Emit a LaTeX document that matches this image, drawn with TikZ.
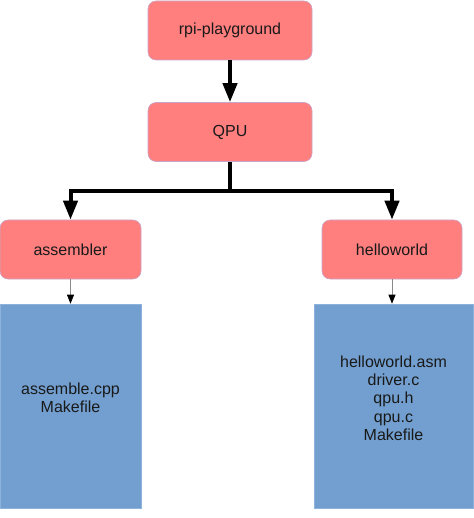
\documentclass[tikz,border=0pt]{standalone}
\usepackage{fontspec}
\setmainfont{Liberation Sans}
\usetikzlibrary{arrows.meta}
\definecolor{pinkfill}{HTML}{FF7F7F}
\definecolor{pinkline}{HTML}{C9A6C9}
\definecolor{bluefill}{HTML}{729FCF}
\definecolor{blueline}{HTML}{8DB2DB}
\definecolor{thingray}{HTML}{8A8A8A}
\begin{document}
\begin{tikzpicture}[x=1pt,y=-1pt,
  pinkbox/.style={rectangle,rounded corners=8pt,fill=pinkfill,draw=pinkline,line width=0.6pt,
    minimum width=#1,minimum height=59pt,inner sep=0pt,text=black!90,
    font=\fontsize{16}{18.3}\selectfont},
  pinkbox/.default=164pt,
  bluebox/.style={rectangle,fill=bluefill,draw=blueline,line width=0.6pt,inner sep=0pt},
  filetext/.style={align=center,inner sep=0pt,text=black!90,font=\fontsize{16}{18.3}\selectfont},
  thick arrow/.style={line width=4pt,-{Triangle[width=14pt,length=19pt]}},
  thin arrow/.style={draw=thingray,line width=0.7pt,-{Triangle[width=7pt,length=9pt,color=black]}}
]
\useasboundingbox (0,0) rectangle (473,518);

\node[pinkbox] (rpi) at (230,30.5) {rpi-playground};
\node[pinkbox] (qpu) at (230,132) {QPU};
\node[pinkbox=141pt] (asm) at (70.5,249.5) {assembler};
\node[pinkbox=140pt] (hw) at (392,249.5) {helloworld};

\node[bluebox,minimum width=141pt,minimum height=204pt] (asmfiles) at (70.5,406) {};
\node[bluebox,minimum width=159pt,minimum height=204pt] (hwfiles) at (393.5,406) {};

\node[filetext] (asmtext) at (70.5,398) {assemble.cpp\\Makefile};
\node[filetext] (hwtext) at (393.5,398) {helloworld.asm\\driver.c\\qpu.h\\qpu.c\\Makefile};

\coordinate (junction) at (230,191);

\draw[thick arrow] (rpi.south) -- (qpu.north);
\draw[thick arrow] (qpu.south) -- (junction) -| (asm.north);
\draw[thick arrow] (junction) -| (hw.north);

\draw[thin arrow] (asm.south) -- (asm.south |- asmfiles.north);
\draw[thin arrow] (hw.south) -- (hw.south |- hwfiles.north);
\end{tikzpicture}
\end{document}
